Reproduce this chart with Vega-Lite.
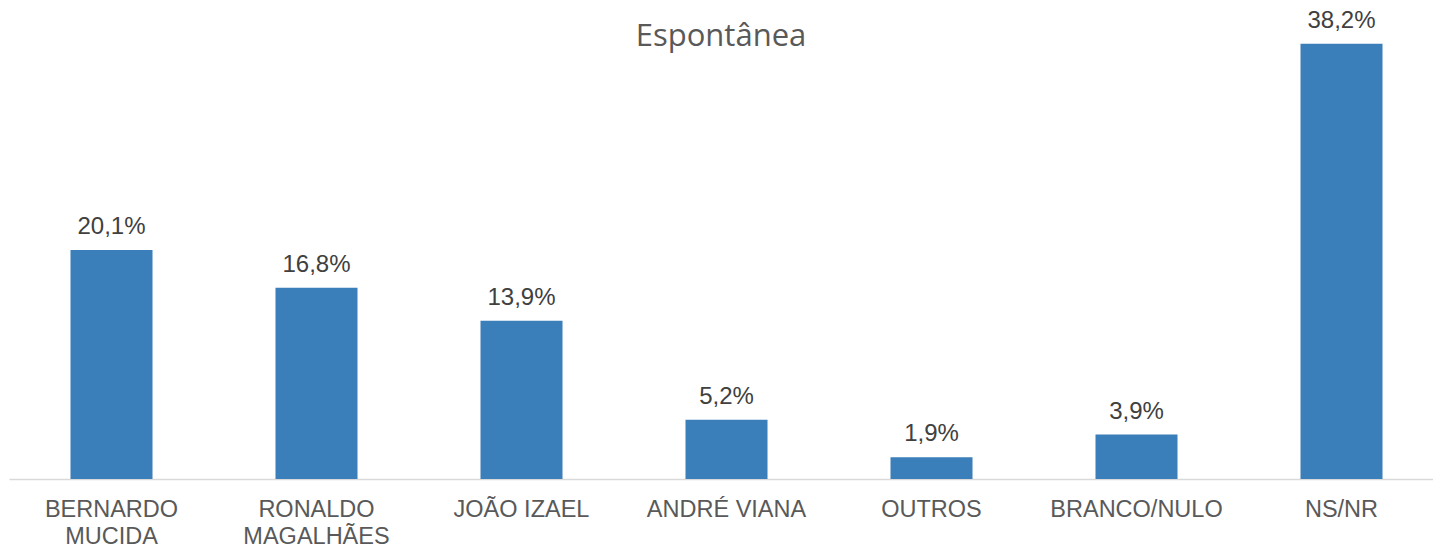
{
  "$schema": "https://vega.github.io/schema/vega-lite/v6.json",
  "width": 1424,
  "height": 479,
  "autosize": "none",
  "padding": {"left": 9, "top": 0, "right": 0, "bottom": 67},
  "background": "white",
  "config": {
    "view": {"stroke": null},
    "locale": {"number": {"decimal": ",", "thousands": ".", "grouping": [3], "currency": ["R$", ""]}}
  },
  "title": {
    "text": "Espontânea",
    "font": "Open Sans",
    "fontSize": 31,
    "fontWeight": "normal",
    "color": "#595959",
    "anchor": "middle",
    "baseline": "middle",
    "offset": -68
  },
  "data": {
    "values": [
      {"candidato": "BERNARDO MUCIDA", "valor": 0.201},
      {"candidato": "RONALDO MAGALHÃES", "valor": 0.168},
      {"candidato": "JOÃO IZAEL", "valor": 0.139},
      {"candidato": "ANDRÉ VIANA", "valor": 0.052},
      {"candidato": "OUTROS", "valor": 0.019},
      {"candidato": "BRANCO/NULO", "valor": 0.039},
      {"candidato": "NS/NR", "valor": 0.382}
    ]
  },
  "encoding": {
    "x": {
      "field": "candidato",
      "type": "nominal",
      "sort": null,
      "scale": {"range": [0, 1435], "paddingInner": 0.6, "paddingOuter": 0.3},
      "axis": {
        "title": null,
        "ticks": false,
        "domainColor": "#D9D9D9",
        "domainWidth": 1.5,
        "labelAngle": 0,
        "labelFont": "Liberation Sans",
        "labelFontSize": 23.5,
        "labelColor": "#595959",
        "labelPadding": 18,
        "labelLineHeight": 27,
        "labelBaseline": "top",
        "labelExpr": "datum.value == 'BERNARDO MUCIDA' ? ['BERNARDO', 'MUCIDA'] : datum.value == 'RONALDO MAGALHÃES' ? ['RONALDO', 'MAGALHÃES'] : datum.value"
      }
    },
    "y": {
      "field": "valor",
      "type": "quantitative",
      "scale": {"domain": [0, 0.4205], "nice": false},
      "axis": null
    }
  },
  "layer": [
    {"mark": {"type": "bar", "color": "#3A7FBA"}},
    {
      "mark": {"type": "text", "font": "Liberation Sans", "fontSize": 24, "color": "#404040", "baseline": "alphabetic", "dy": -16},
      "encoding": {"text": {"field": "valor", "type": "quantitative", "format": ".1%"}}
    }
  ]
}
